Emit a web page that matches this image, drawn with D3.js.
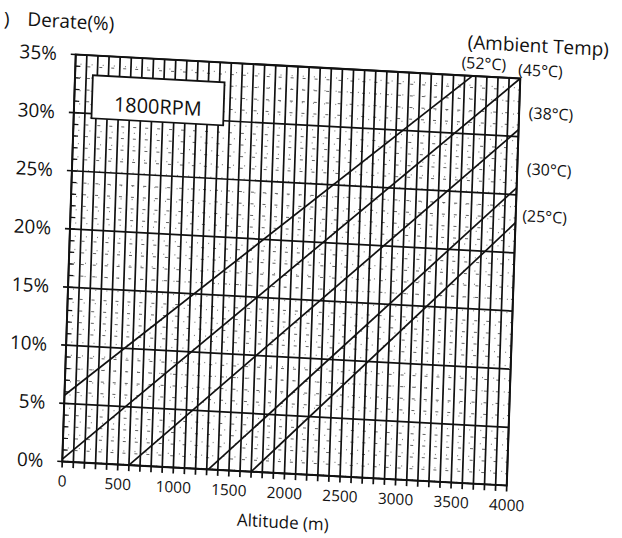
<!DOCTYPE html>
<html><head><meta charset="utf-8">
<script src="https://cdn.jsdelivr.net/npm/d3@7"></script>
<style>
body{margin:0;background:#fff}
text{font-family:"Open Sans",sans-serif;fill:#111}
</style>
</head><body>
<svg id="c" width="622" height="538"></svg>
<script>
// ---- data ----
const temps = ["52°C","45°C","38°C","30°C","25°C"];
const startAlt = [0, 0, 600, 1315, 1700];
const startDerate = [5.7, 0.2, 0, 0, 0];
const endAlt = [3570, 4000, 4000, 4000, 4000];
const endDerate = [35, 35, 30.6, 25.6, 22.6];
const xTicks = [0,500,1000,1500,2000,2500,3000,3500,4000];
const yTicks = [0,5,10,15,20,25,30,35];
const rpmText = "1800RPM";
const rpmBox = {alt0:160, alt1:1345, der0:29.6, der1:33.3};

// ---- layout ----
const L=68, T=67, PW=446, PH=406;
const x = d3.scaleLinear().domain([0,4000]).range([L, L+PW]);
const y = d3.scaleLinear().domain([0,35]).range([T+PH, T]);

const svg = d3.select("#c");
// slight rotation/skew of the scanned original
const g = svg.append("g")
  .attr("transform","matrix(0.99664,0.05381,-0.03325,1.00246,10.21,-16.32)");

// minor dotted grid
g.append("g").selectAll("line").data(d3.range(0,35.01,1).filter(d=>d%5!==0))
  .join("line").attr("x1",x(0)).attr("x2",x(4000)).attr("y1",d=>y(d)).attr("y2",d=>y(d))
  .attr("stroke","#555").attr("stroke-width",0.9).attr("stroke-dasharray","3,9");
g.append("g").selectAll("line").data(d3.range(50,4000,100))
  .join("line").attr("x1",d=>x(d)).attr("x2",d=>x(d)).attr("y1",y(0)).attr("y2",y(35))
  .attr("stroke","#666").attr("stroke-width",0.8).attr("stroke-dasharray","1.2,12");

// left small ticks each 1%
g.append("g").selectAll("line").data(d3.range(0,35.01,1))
  .join("line").attr("x1",x(0)).attr("x2",x(0)+5).attr("y1",d=>y(d)).attr("y2",d=>y(d))
  .attr("stroke","#111").attr("stroke-width",1.2);

// major vertical grid each 100 m (extend below axis)
g.append("g").selectAll("line").data(d3.range(0,4000.1,100))
  .join("line").attr("x1",d=>x(d)).attr("x2",d=>x(d)).attr("y1",y(35)).attr("y2",y(0)+6)
  .attr("stroke","#111").attr("stroke-width",1.7);

// major horizontal grid each 5% (extend left of axis)
g.append("g").selectAll("line").data(yTicks)
  .join("line").attr("x1",x(0)-5).attr("x2",x(4000)).attr("y1",d=>y(d)).attr("y2",d=>y(d))
  .attr("stroke","#111").attr("stroke-width",1.7);

// border
g.append("rect").attr("x",x(0)).attr("y",y(35)).attr("width",x(4000)-x(0)).attr("height",y(0)-y(35))
  .attr("fill","none").attr("stroke","#111").attr("stroke-width",2);

// axes labels
const ya = g.append("g").attr("transform",`translate(${x(0)},0)`)
  .call(d3.axisLeft(y).tickValues(yTicks).tickFormat(d=>d+"%").tickSize(0).tickPadding(19));
ya.select(".domain").remove();
ya.selectAll("text").attr("font-size",19).attr("font-family","Open Sans").attr("fill","#111");

const xa = g.append("g").attr("transform",`translate(0,${y(0)})`)
  .call(d3.axisBottom(x).tickValues(xTicks).tickFormat(d=>String(d)).tickSize(0).tickPadding(14));
xa.select(".domain").remove();
xa.selectAll("text").attr("font-size",15.5).attr("font-family","Open Sans").attr("fill","#111");

// derate lines
g.append("g").selectAll("line").data(temps)
  .join("line")
  .attr("x1",(d,i)=>x(startAlt[i])).attr("y1",(d,i)=>y(startDerate[i]))
  .attr("x2",(d,i)=>x(endAlt[i])).attr("y2",(d,i)=>y(endDerate[i]))
  .attr("stroke","#111").attr("stroke-width",1.7);

// 1800RPM box
g.append("rect").attr("x",x(rpmBox.alt0)).attr("y",y(rpmBox.der1))
  .attr("width",x(rpmBox.alt1)-x(rpmBox.alt0)).attr("height",y(rpmBox.der0)-y(rpmBox.der1))
  .attr("fill","#fff").attr("stroke","#111").attr("stroke-width",1.8);
g.append("text").attr("x",(x(rpmBox.alt0)+x(rpmBox.alt1))/2).attr("y",(y(rpmBox.der0)+y(rpmBox.der1))/2+8)
  .attr("text-anchor","middle").attr("dominant-baseline","middle").attr("font-size",20).text(rpmText);

// titles
g.append("text").attr("x",x(0)-6).attr("y",y(35)-31).attr("text-anchor","middle")
  .attr("dominant-baseline","middle").attr("font-size",19).text("Derate(%)");
g.append("text").attr("x",-5).attr("y",y(35)-30).attr("text-anchor","start")
  .attr("dominant-baseline","middle").attr("font-size",19).text(")");
g.append("text").attr("x",(x(0)+x(4000))/2).attr("y",y(0)+50).attr("text-anchor","middle")
  .attr("dominant-baseline","middle").attr("font-size",17).text("Altitude (m)");
g.append("text").attr("x",x(4000)+17).attr("y",y(35)-32).attr("text-anchor","middle")
  .attr("dominant-baseline","middle").attr("font-size",19).text("(Ambient Temp)");

// temperature labels
const labDx = [11, 20, 32, 32, 29];
const labDy = [-11.5, -7.5, -16, -18, -6];
g.append("g").selectAll("text").data(temps).join("text")
  .attr("x",(d,i)=>x(endAlt[i])+labDx[i])
  .attr("y",(d,i)=>y(endDerate[i])+labDy[i])
  .attr("text-anchor","middle").attr("dominant-baseline","middle")
  .attr("font-size",16).text(d=>"("+d+")");
</script>
</body></html>
